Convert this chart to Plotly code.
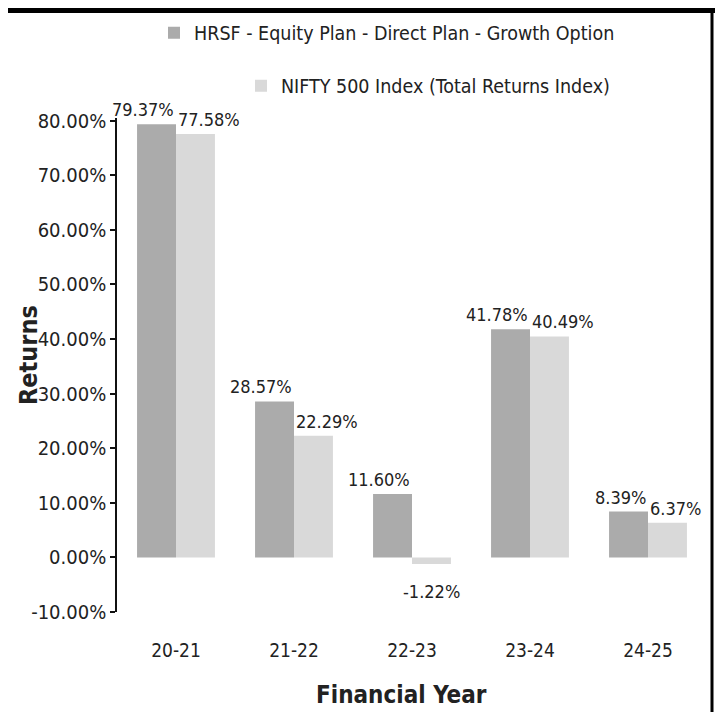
import plotly.graph_objects as go

# ---- data ----
years = ["20-21", "21-22", "22-23", "23-24", "24-25"]
fund_returns = [79.37, 28.57, 11.60, 41.78, 8.39]
index_returns = [77.58, 22.29, -1.22, 40.49, 6.37]
fund_name = "HRSF - Equity Plan - Direct Plan - Growth Option"
index_name = "NIFTY 500 Index (Total Returns Index)"
y_tick_vals = [80, 70, 60, 50, 40, 30, 20, 10, 0, -10]
y_tick_text = ["80.00%", "70.00%", "60.00%", "50.00%", "40.00%",
               "30.00%", "20.00%", "10.00%", "0.00%", "-10.00%"]

# ---- style ----
FONT = "DejaVu Sans Condensed, DejaVu Sans, sans-serif"
DARK = "#ababab"
LIGHT = "#d9d9d9"
TXT = "#222222"
OFF = 8  # page body margin
W, H = 723 - OFF, 720 - 2 * OFF
PLOT_TOP, PLOT_BOTTOM = 118, 612      # reference-page pixels
ML, MR = 117 - OFF, 16
MT = PLOT_TOP - OFF
MB = H - (PLOT_BOTTOM - OFF)
YMIN, YMAX = -10, 80.5
pw = W - ML - MR
ph = H - MT - MB


def fnt(size, bold=False):
    d = dict(family=FONT, size=size, color=TXT)
    if bold:
        d["weight"] = "bold"
    return d


def px_x(p):  # reference-page pixel -> paper x
    return (p - OFF - ML) / pw


def px_y(p):  # reference-page pixel -> paper y
    return (H - MB - (p - OFF)) / ph


fig = go.Figure()
fig.add_trace(go.Bar(x=years, y=fund_returns, name=fund_name,
                     marker=dict(color=DARK, line=dict(width=0)), legend="legend"))
fig.add_trace(go.Bar(x=years, y=index_returns, name=index_name,
                     marker=dict(color=LIGHT, line=dict(width=0)), legend="legend2"))

LBL = 18
annotations = []
for i, v in enumerate(fund_returns):
    annotations.append(dict(x=i, y=v, xref="x", yref="y", text=f"{v:.2f}%",
                            showarrow=False, xanchor="right",
                            yanchor="bottom" if v >= 0 else "top",
                            yshift=2, font=fnt(LBL)))
for i, v in enumerate(index_returns):
    if v >= 0:
        annotations.append(dict(x=i, y=v, xref="x", yref="y", text=f"{v:.2f}%",
                                showarrow=False, xanchor="left", yanchor="bottom",
                                yshift=2, font=fnt(LBL)))
    else:
        annotations.append(dict(x=i + 0.165, y=v, xref="x", yref="y", text=f"{v:.2f}%",
                                showarrow=False, xanchor="center", yanchor="top",
                                yshift=-15, font=fnt(LBL)))

annotations.append(dict(x=px_x(28), y=px_y(355), xref="paper", yref="paper", text="Returns",
                        showarrow=False, textangle=-90, xanchor="center", yanchor="middle",
                        font=fnt(25, bold=True)))
annotations.append(dict(x=px_x(401), y=px_y(695), xref="paper", yref="paper",
                        text="Financial Year", showarrow=False, xanchor="center",
                        yanchor="middle", font=fnt(24, bold=True)))

shapes = [
    dict(type="rect", xref="paper", yref="paper", x0=px_x(0), x1=px_x(723),
         y0=px_y(OFF), y1=px_y(OFF + 5),
         fillcolor="black", line=dict(width=0), layer="above"),
    dict(type="line", xref="paper", yref="paper", x0=px_x(712), x1=px_x(712),
         y0=px_y(OFF), y1=px_y(720),
         line=dict(color="black", width=3), layer="above"),
]

zero_pos = (0 - YMIN) / (YMAX - YMIN)

fig.update_layout(
    width=W, height=H,
    margin=dict(l=ML, r=MR, t=MT, b=MB, autoexpand=False),
    paper_bgcolor="white", plot_bgcolor="white",
    barmode="group", bargap=0.34, bargroupgap=0,
    font=fnt(19),
    xaxis=dict(type="category", range=[-0.5, 4.5], showline=False, showgrid=False,
               zeroline=False, ticks="", ticklabelstandoff=25, tickfont=fnt(19)),
    xaxis2=dict(overlaying="x", anchor="free", position=zero_pos, range=[-0.5, 4.5],
                showline=True, linecolor="#111111", linewidth=1.5, ticks="outside",
                ticklen=6, tickwidth=1.5, tickcolor="#111111",
                tickvals=[0.5, 1.5, 2.5, 3.5, 4.5], showticklabels=False,
                showgrid=False, zeroline=False),
    yaxis=dict(range=[YMIN, YMAX], tickvals=y_tick_vals, ticktext=y_tick_text,
               showline=True, linecolor="#111111", linewidth=1.5, ticks="outside",
               ticklen=5, tickwidth=1.5, tickcolor="#111111", showgrid=False,
               zeroline=False, ticklabelstandoff=0, tickfont=fnt(20)),
    legend=dict(x=px_x(620), y=px_y(33), xanchor="right", yanchor="middle",
                bgcolor="rgba(0,0,0,0)", font=fnt(19.5)),
    legend2=dict(x=px_x(615), y=px_y(86), xanchor="right", yanchor="middle",
                 bgcolor="rgba(0,0,0,0)", font=fnt(19.5)),
    annotations=annotations,
    shapes=shapes,
    showlegend=True,
)

fig.write_html("out.html")
